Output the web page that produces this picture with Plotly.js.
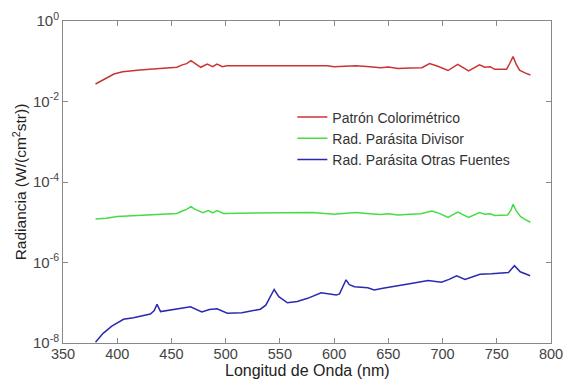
<!DOCTYPE html>
<html><head><meta charset="utf-8">
<script src="https://cdn.plot.ly/plotly-3.0.1.min.js"></script>
<style>html,body{margin:0;padding:0;background:#fff}#c{width:567px;height:381px}</style>
</head><body><div id="c"></div>
<script>
var seriesNames = ["Patrón Colorimétrico", "Rad. Parásita Divisor", "Rad. Parásita Otras Fuentes"];
var redX = [380,390,397,405,412,421,430,440,449,455,460,464,468,472,477,483,488,492,497,501,520,540,560,580,594,600,610,620,630,643,650,659,670,681,688,695,705,714,724,734,739,744,748,754,759,762,765,768,771,776,781];
var redLog = [-1.565,-1.43,-1.317,-1.26,-1.235,-1.217,-1.20,-1.18,-1.16,-1.15,-1.09,-1.06,-0.986,-1.06,-1.15,-1.07,-1.135,-1.07,-1.135,-1.11,-1.11,-1.11,-1.11,-1.11,-1.11,-1.135,-1.13,-1.11,-1.13,-1.16,-1.14,-1.18,-1.17,-1.16,-1.06,-1.12,-1.23,-1.077,-1.24,-1.09,-1.15,-1.135,-1.2,-1.19,-1.2,-1.05,-0.886,-1.08,-1.22,-1.29,-1.34];
var greenX = [380,390,400,420,440,449,455,460,464,468,472,479,484,488,492,498,520,540,560,580,600,610,620,630,643,650,659,670,680,690,697,705,714,724,734,739,744,748,754,760,763,765,768,772,776,781];
var greenLog = [-4.92,-4.90,-4.86,-4.83,-4.81,-4.80,-4.78,-4.72,-4.68,-4.61,-4.68,-4.76,-4.71,-4.77,-4.71,-4.78,-4.77,-4.77,-4.77,-4.76,-4.80,-4.78,-4.76,-4.78,-4.81,-4.79,-4.82,-4.80,-4.79,-4.72,-4.78,-4.88,-4.75,-4.88,-4.76,-4.80,-4.79,-4.83,-4.82,-4.82,-4.70,-4.55,-4.72,-4.86,-4.93,-5.0];
var blueX = [380,387,395,405.8,415,430.5,434,436.7,440,452,467.6,478,485,492,501.5,515,532,537,541,544.7,549,557,566,575.6,588,597,602,605,608,611,614,618.8,631,637,645,652.8,662,671,686.7,699,706,713,720.7,728,734.5,745,754,760.8,764,766.3,771.6,776,780.8];
var blueLog = [-7.98,-7.76,-7.58,-7.41,-7.37,-7.28,-7.2,-7.04,-7.22,-7.16,-7.10,-7.23,-7.17,-7.15,-7.26,-7.25,-7.16,-7.06,-6.86,-6.67,-6.85,-7.0,-6.97,-6.89,-6.75,-6.80,-6.81,-6.78,-6.6,-6.43,-6.55,-6.60,-6.63,-6.68,-6.64,-6.60,-6.57,-6.52,-6.45,-6.49,-6.42,-6.33,-6.42,-6.35,-6.29,-6.28,-6.26,-6.25,-6.15,-6.08,-6.23,-6.28,-6.33];
var xTicks = [350,400,450,500,550,600,650,700,750,800];
var yTickVals = [1e-8,1e-6,1e-4,1e-2,1];
var yTickText = ["10<sup>-8</sup>","10<sup>-6</sup>","10<sup>-4</sup>","10<sup>-2</sup>","10<sup>0</sup>"];
var xTitle = "Longitud de Onda (nm)";
var yTitle = "Radiancia (W/(cm<sup>2</sup>str))";
var colors = ["#cc3333","#44dd44","#2a2ab0"];

function pw(a){return a.map(function(v){return Math.pow(10,v);});}
var traces = [
 {x:redX, y:pw(redLog), name:seriesNames[0], mode:"lines", line:{color:colors[0], width:1.5}},
 {x:greenX, y:pw(greenLog), name:seriesNames[1], mode:"lines", line:{color:colors[1], width:1.5}},
 {x:blueX, y:pw(blueLog), name:seriesNames[2], mode:"lines", line:{color:colors[2], width:1.5}}
];
var fam = "Liberation Sans, Arial, sans-serif";
var layout = {
 width:567, height:381,
 margin:{l:63, r:16, t:21, b:38},
 paper_bgcolor:"#fff", plot_bgcolor:"#fff",
 font:{family:fam, size:14, color:"#333"},
 showlegend:true,
 legend:{x:0.47, y:0.75, xanchor:"left", yanchor:"top", bgcolor:"rgba(0,0,0,0)", font:{family:fam, size:14, color:"#333"}, tracegroupgap:0, itemwidth:30},
 xaxis:{range:[350,800], tickvals:xTicks, ticks:"inside", ticklen:5, tickcolor:"#888", showline:true, linecolor:"#888", linewidth:1, mirror:"ticks", showgrid:false, zeroline:false,
   ticklabelstandoff:-2,
   tickfont:{family:fam, size:14.5, color:"#444"}},
 yaxis:{type:"log", range:[-8,0], tickvals:yTickVals, ticktext:yTickText, ticks:"inside", ticklen:5, tickcolor:"#888", showline:true, linecolor:"#888", linewidth:1, mirror:"ticks", showgrid:false, zeroline:false,
   tickfont:{family:fam, size:15, color:"#444"},
   title:{text:yTitle, font:{family:fam, size:15.5, color:"#222"}, standoff:2}},
 annotations:[{text:xTitle, xref:"paper", yref:"paper", x:0.5, y:-0.086, xanchor:"center", yanchor:"middle", showarrow:false, font:{family:fam, size:16, color:"#222"}}]
};
Plotly.newPlot("c", traces, layout, {displayModeBar:false, staticPlot:true});
</script></body></html>
